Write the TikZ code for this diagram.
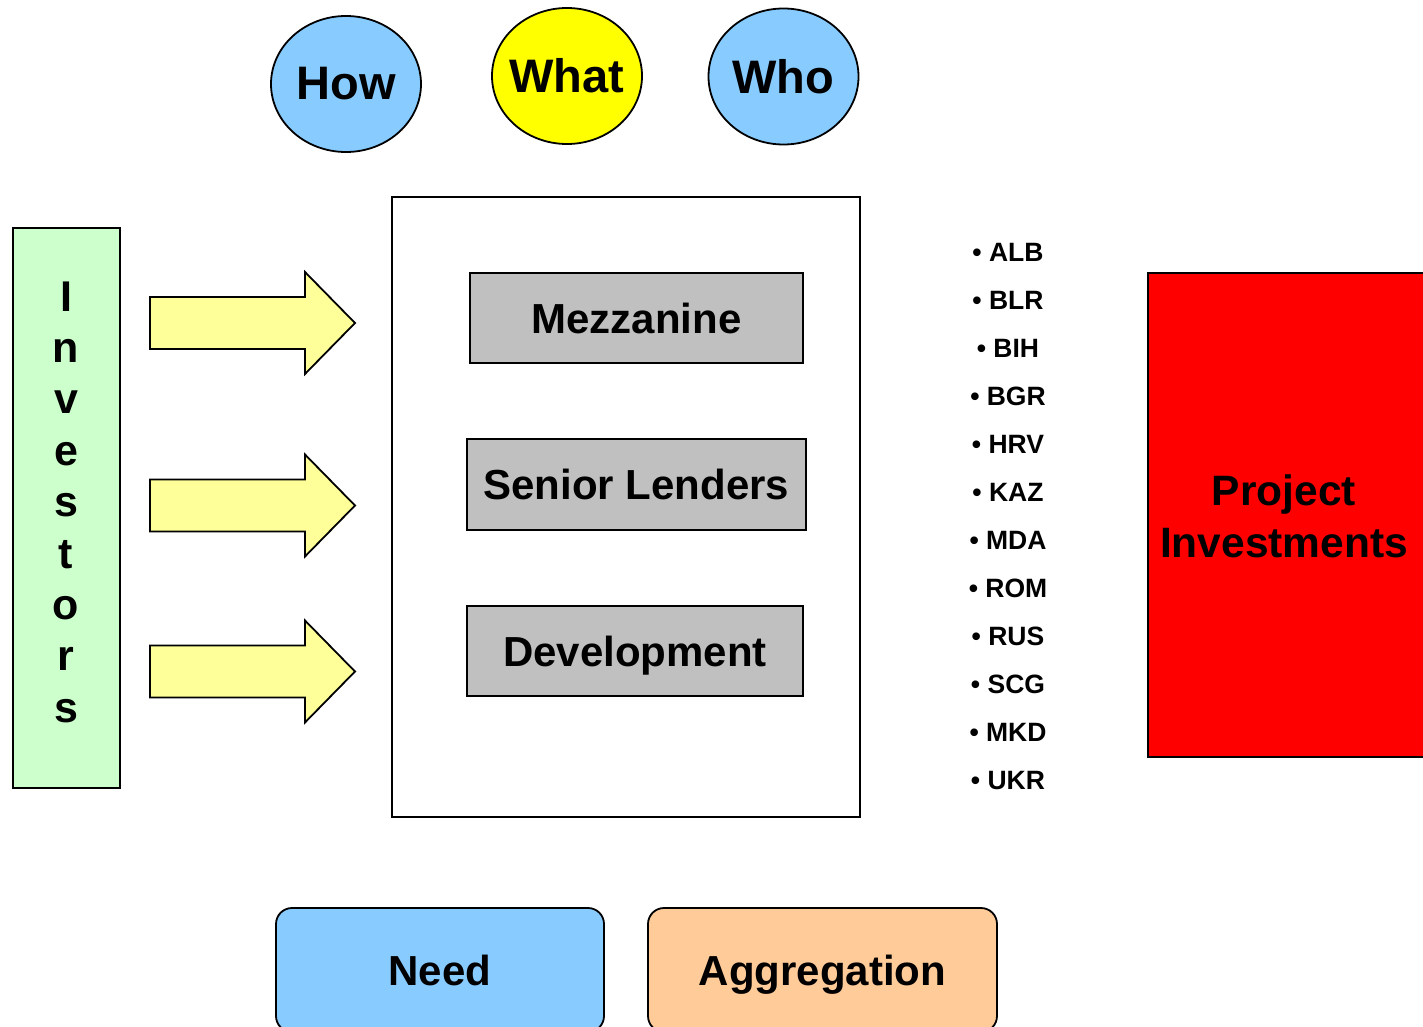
\documentclass[tikz,border=0pt]{standalone}
\usepackage{fontspec}
\setmainfont{Liberation Sans}
\usetikzlibrary{shapes.geometric}
\definecolor{skyfill}{HTML}{88CCFF}
\definecolor{sunfill}{HTML}{FFFF00}
\definecolor{mintfill}{HTML}{CCFFCC}
\definecolor{palearrow}{HTML}{FFFF99}
\definecolor{greyfill}{HTML}{C0C0C0}
\definecolor{peachfill}{HTML}{FFCC99}
\definecolor{redfill}{HTML}{FF0000}
\tikzset{
  outline/.style={draw=black, line width=1.8pt},
  bubble/.style={outline, ellipse, minimum width=150pt, minimum height=136pt, inner sep=-15pt,
    font=\fontsize{47}{52}\selectfont\bfseries},
  tierbox/.style={outline, rectangle, fill=greyfill, inner sep=0pt, text height=30pt, text depth=0pt,
    font=\fontsize{42}{48}\selectfont\bfseries},
  boxedge/.style={outline, rectangle, inner sep=0pt},
  pillbox/.style={outline, rectangle, rounded corners=16pt, inner sep=0pt, text height=30pt, text depth=0pt,
    font=\fontsize{42}{48}\selectfont\bfseries},
  flowarrow/.style={outline, fill=palearrow, line join=miter},
  letter/.style={anchor=base, inner sep=0pt, font=\fontsize{43}{48}\selectfont\bfseries},
  country/.style={anchor=base, inner sep=0pt, font=\fontsize{26.5}{30}\selectfont\bfseries},
}

\begin{document}

\begin{tikzpicture}[x=1pt, y=-1pt]
  \useasboundingbox (0,0) rectangle (1423,1027);
  \clip (0,0) rectangle (1423,1027);

  % question bubbles
  \node[bubble, fill=skyfill] (how)  at (346,84)   {How};
  \node[bubble, fill=sunfill] (what) at (567,76)   {What};
  \node[bubble, fill=skyfill] (who)  at (783.5,76.5) {Who};

  % investors column
  \node[boxedge, fill=mintfill, minimum width=107pt, minimum height=560pt] (investors) at (66.5,508) {};
  \foreach \ch [count=\i from 0] in {I,n,v,e,s,t,o,r,s}
    \node[letter] (inv\i) at (66, 311+51.4*\i) {\ch};

  % arrows into the funding box
  \foreach \cy [count=\k] in {323,505.5,671.5}
    \draw[flowarrow] (150,\cy-26) -- (305,\cy-26) -- (305,\cy-51) -- (355,\cy)
      -- (305,\cy+51) -- (305,\cy+26) -- (150,\cy+26) -- cycle;

  % funding box with its tiers
  \node[boxedge, fill=white, minimum width=468pt, minimum height=620pt] (fund) at (626,507) {};
  \node[tierbox, minimum width=333pt, minimum height=90pt] (mezz)   at (636.5,318) {Mezzanine};
  \node[tierbox, minimum width=339pt, minimum height=91pt] (senior) at (636.5,484.5) {Senior Lenders};
  \node[tierbox, minimum width=336pt, minimum height=90pt] (devel)  at (635,651) {Development};

  % country list
  \foreach \cc [count=\j from 0] in {ALB,BLR,BIH,BGR,HRV,KAZ,MDA,ROM,RUS,SCG,MKD,UKR}
    \node[country] (c\j) at (1008, 261+48*\j) {\textbullet\ \cc};

  % project investments
  \node[boxedge, fill=redfill, minimum width=282pt, minimum height=484pt] (project) at (1289,515) {};
  \node[align=center, inner sep=0pt, font=\fontsize{42.5}{52}\selectfont\bfseries] (projtext) at (1284,516)
    {Project\\Investments};

  % bottom panels
  \node[pillbox, fill=skyfill, minimum width=328pt, minimum height=124pt] (need) at (440,970) {Need};
  \node[pillbox, fill=peachfill, minimum width=349pt, minimum height=124pt] (aggr) at (822.5,970) {Aggregation};
\end{tikzpicture}

\end{document}
